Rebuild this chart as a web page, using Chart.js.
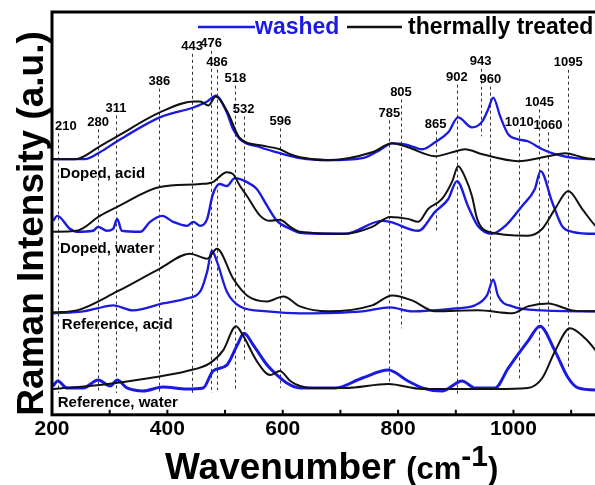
<!DOCTYPE html>
<html>
<head>
<meta charset="utf-8">
<script src="https://cdn.jsdelivr.net/npm/chart.js@4/dist/chart.umd.min.js"></script>
<style>
  html, body { margin: 0; padding: 0; background: #fff; overflow: hidden; }
  #wrap { width: 610px; height: 485px; }
</style>
</head>
<body>
<div id="wrap"><canvas id="raman" width="610" height="485"></canvas></div>
<script>
// spectra: [wavenumber, intensity (a.u., stacked with offsets)]
const dopedAcidWashed = [[202,257],[257,257],[283,264],[313,275],[387,299],[445,309],[469,315],[484,321],[503,304],[514,287],[526,277],[561,269],[595,263],[630,258],[679,256],[738,258],[765,265],[790,273],[812,272],[842,267],[864,274],[887,284],[904,299],[928,289],[946,295],[956,307],[965,319],[977,300],[991,282],[1008,277],[1025,275],[1050,267],[1072,262],[1107,258],[1142,257],[1150,257]];
const dopedAcidThermal = [[202,257],[240,257],[283,270],[313,280],[387,304],[445,315],[457,315],[471,311],[484,320],[503,306],[526,278],[561,271],[595,267],[613,262],[630,259],[679,256],[755,264],[790,273],[817,269],[864,260],[894,264],[916,267],[946,262],[1008,255],[1060,260],[1090,263],[1119,259],[1142,257],[1150,257]];

const dopedWaterWashed = [[202,195],[209,200],[231,187],[243,184],[271,185],[280,189],[295,185],[306,187],[313,197],[321,185],[353,184],[370,194],[391,200],[410,194],[434,190],[445,194],[457,190],[469,197],[479,222],[491,232],[503,230],[517,238],[538,234],[555,227],[573,210],[590,195],[613,187],[630,183],[679,182],[708,182],[772,195],[786,194],[835,185],[864,204],[887,217],[902,235],[921,210],[938,190],[963,182],[986,190],[1015,210],[1037,227],[1047,245],[1067,214],[1084,190],[1102,184],[1142,182],[1150,182]];
const dopedWaterThermal = [[202,184],[243,185],[283,200],[313,209],[387,229],[457,232],[479,234],[503,244],[514,242],[526,230],[538,220],[561,200],[578,195],[595,196],[613,189],[630,184],[708,182],[755,189],[786,199],[817,197],[835,194],[852,207],[876,217],[894,235],[904,250],[916,239],[928,220],[937,197],[956,184],[1025,180],[1050,187],[1072,207],[1095,225],[1119,207],[1142,190],[1150,186]];

const refAcidWashed = [[202,102],[254,104],[278,107],[306,110],[340,105],[392,112],[434,117],[457,124],[469,144],[477,165],[486,154],[503,124],[526,109],[573,104],[630,102],[738,104],[786,108],[824,104],[899,107],[933,110],[954,120],[965,136],[973,120],[998,109],[1050,105],[1142,104],[1150,104]];
const refAcidThermal = [[202,103],[243,105],[313,124],[387,147],[439,162],[469,157],[486,167],[514,137],[538,120],[573,114],[601,119],[630,109],[679,104],[755,110],[790,120],[824,115],[864,104],[938,105],[998,102],[1025,109],[1060,112],[1102,105],[1142,104],[1150,104]];

const refWaterWashed = [[202,29],[210,34],[226,27],[254,27],[280,35],[301,29],[313,35],[330,27],[358,24],[392,28],[434,26],[462,27],[479,44],[503,50],[521,70],[533,82],[549,70],[573,50],[590,40],[607,32],[630,27],[691,27],[738,37],[783,45],[817,34],[842,27],[876,24],[911,34],[933,27],[968,27],[991,47],[1025,74],[1046,89],[1072,64],[1095,37],[1112,27],[1142,25],[1150,25]];
const refWaterThermal = [[202,26],[283,30],[370,37],[434,44],[474,52],[497,65],[519,89],[531,80],[555,54],[578,40],[595,44],[613,34],[630,29],[651,27],[708,27],[783,31],[842,26],[968,26],[1025,27],[1050,37],[1072,64],[1098,87],[1124,77],[1142,65],[1150,58]];

// marked bands: position, label height, where the dashed line stops
const peakPos    = [210,280,311,386,443,476,486,518,532,596,785,805,865,902,943,960,1010,1045,1060,1095];
const peakLabelY = [290,294,308,335,370,373,354,338,307,295,303,324,292,339,355,337,294,314,291,354];
const peakLineEnd = [22,22,22,22,22,22,25,25,54,27,30,87,185,19,280,97,34,57,89,47];

const sampleNames = ['Doped, acid','Doped, water','Reference, acid','Reference, water'];
const sampleLabelX = [214,214,217,210];
const sampleLabelY = [242,167,90,12];

const xTickStep = 100;

const BLUE = '#1a1ae0';
const BLACK = '#111111';
const FONT = '"Liberation Sans", Arial, sans-serif';

function toXY(arr) {
  return arr.map(p => ({ x: p[0], y: p[1] }));
}

function series(label, arr, color, width) {
  return {
    label: label,
    data: toXY(arr),
    borderColor: color,
    borderWidth: width,
    pointRadius: 0,
    fill: false,
    cubicInterpolationMode: 'monotone'
  };
}

const datasets = [
  series('thermally treated', dopedAcidThermal, BLACK, 2),
  series('washed', dopedAcidWashed, BLUE, 2.3),
  series('thermally treated', dopedWaterThermal, BLACK, 2),
  series('washed', dopedWaterWashed, BLUE, 2.4),
  series('thermally treated', refAcidThermal, BLACK, 2),
  series('washed', refAcidWashed, BLUE, 2.3),
  series('thermally treated', refWaterThermal, BLACK, 2),
  series('washed', refWaterWashed, BLUE, 3)
];

// dashed band markers under the curves
const bandLines = {
  id: 'bandLines',
  beforeDatasetsDraw(chart) {
    const ctx = chart.ctx, xs = chart.scales.x, ys = chart.scales.y;
    ctx.save();
    ctx.strokeStyle = '#333';
    ctx.lineWidth = 1;
    ctx.setLineDash([3, 3]);
    peakPos.forEach((p, i) => {
      const x = Math.round(xs.getPixelForValue(p)) + 0.5;
      ctx.beginPath();
      ctx.moveTo(x, ys.getPixelForValue(peakLabelY[i]) + 7);
      ctx.lineTo(x, ys.getPixelForValue(peakLineEnd[i]));
      ctx.stroke();
    });
    ctx.restore();
  }
};

// frame, inward ticks, labels, legend and titles
const decorations = {
  id: 'decorations',
  afterDraw(chart) {
    const ctx = chart.ctx, a = chart.chartArea;
    const xs = chart.scales.x, ys = chart.scales.y;
    ctx.save();

    ctx.strokeStyle = '#000';
    ctx.lineWidth = 3;
    ctx.strokeRect(a.left, a.top, a.right - a.left, a.bottom - a.top);

    ctx.lineWidth = 2;
    for (let v = xs.min; v <= xs.max; v += xTickStep) {
      const x = xs.getPixelForValue(v);
      ctx.beginPath();
      ctx.moveTo(x, a.bottom);
      ctx.lineTo(x, a.bottom - 5);
      ctx.stroke();
    }

    // band labels
    ctx.fillStyle = '#000';
    ctx.font = 'bold 13px ' + FONT;
    ctx.textAlign = 'center';
    ctx.textBaseline = 'middle';
    peakPos.forEach((p, i) => {
      const t = String(p);
      const w = ctx.measureText(t).width;
      const x = Math.max(xs.getPixelForValue(p), a.left + w / 2 + 3);
      ctx.fillText(t, x, ys.getPixelForValue(peakLabelY[i]));
    });

    // sample names
    ctx.font = 'bold 15px ' + FONT;
    ctx.textAlign = 'left';
    sampleNames.forEach((s, i) => {
      ctx.fillText(s, xs.getPixelForValue(sampleLabelX[i]), ys.getPixelForValue(sampleLabelY[i]));
    });

    // legend
    const ly = a.top + 15;
    ctx.font = 'bold 23px ' + FONT;
    ctx.lineWidth = 2.5;
    ctx.strokeStyle = BLUE;
    ctx.beginPath(); ctx.moveTo(198, ly); ctx.lineTo(255, ly); ctx.stroke();
    ctx.fillStyle = BLUE;
    ctx.fillText('washed', 255, ly + 1);
    ctx.strokeStyle = BLACK;
    ctx.beginPath(); ctx.moveTo(347, ly); ctx.lineTo(402, ly); ctx.stroke();
    ctx.fillStyle = '#000';
    ctx.fillText('thermally treated', 408, ly + 1);

    // y title
    ctx.save();
    ctx.translate(43, (a.top + a.bottom) / 2 + 10);
    ctx.rotate(-Math.PI / 2);
    ctx.font = 'bold 37px ' + FONT;
    ctx.textAlign = 'center';
    ctx.textBaseline = 'alphabetic';
    ctx.fillText('Raman Intensity (a.u.)', 0, 0);
    ctx.restore();

    // x title with superscript
    const parts = [
      { t: 'Wavenumber ', f: 'bold 37px ', dy: 0 },
      { t: '(cm', f: 'bold 31px ', dy: 0 },
      { t: '-1', f: 'bold 30px ', dy: -13 },
      { t: ')', f: 'bold 31px ', dy: 0 }
    ];
    ctx.textBaseline = 'alphabetic';
    ctx.textAlign = 'left';
    let x = 165;
    parts.forEach(p => {
      ctx.font = p.f + FONT;
      ctx.fillText(p.t, x, 479 + p.dy);
      x += ctx.measureText(p.t).width;
    });

    ctx.restore();
  }
};

new Chart(document.getElementById('raman'), {
  type: 'line',
  data: { datasets: datasets },
  options: {
    responsive: false,
    animation: false,
    layout: { padding: { left: 52, top: 12, right: 10, bottom: 41 } },
    plugins: { legend: { display: false }, tooltip: { enabled: false } },
    scales: {
      x: {
        type: 'linear',
        min: 200,
        max: 1150,
        grid: { display: false, drawTicks: false },
        border: { display: false },
        ticks: {
          stepSize: xTickStep,
          autoSkip: false,
          maxRotation: 0,
          padding: 2,
          color: '#000',
          font: { family: FONT, size: 21, weight: 'bold' },
          callback: v => (v % 200 === 0 ? v : '')
        }
      },
      y: { display: false, min: 0, max: 405 }
    }
  },
  plugins: [bandLines, decorations]
});
</script>
</body>
</html>
